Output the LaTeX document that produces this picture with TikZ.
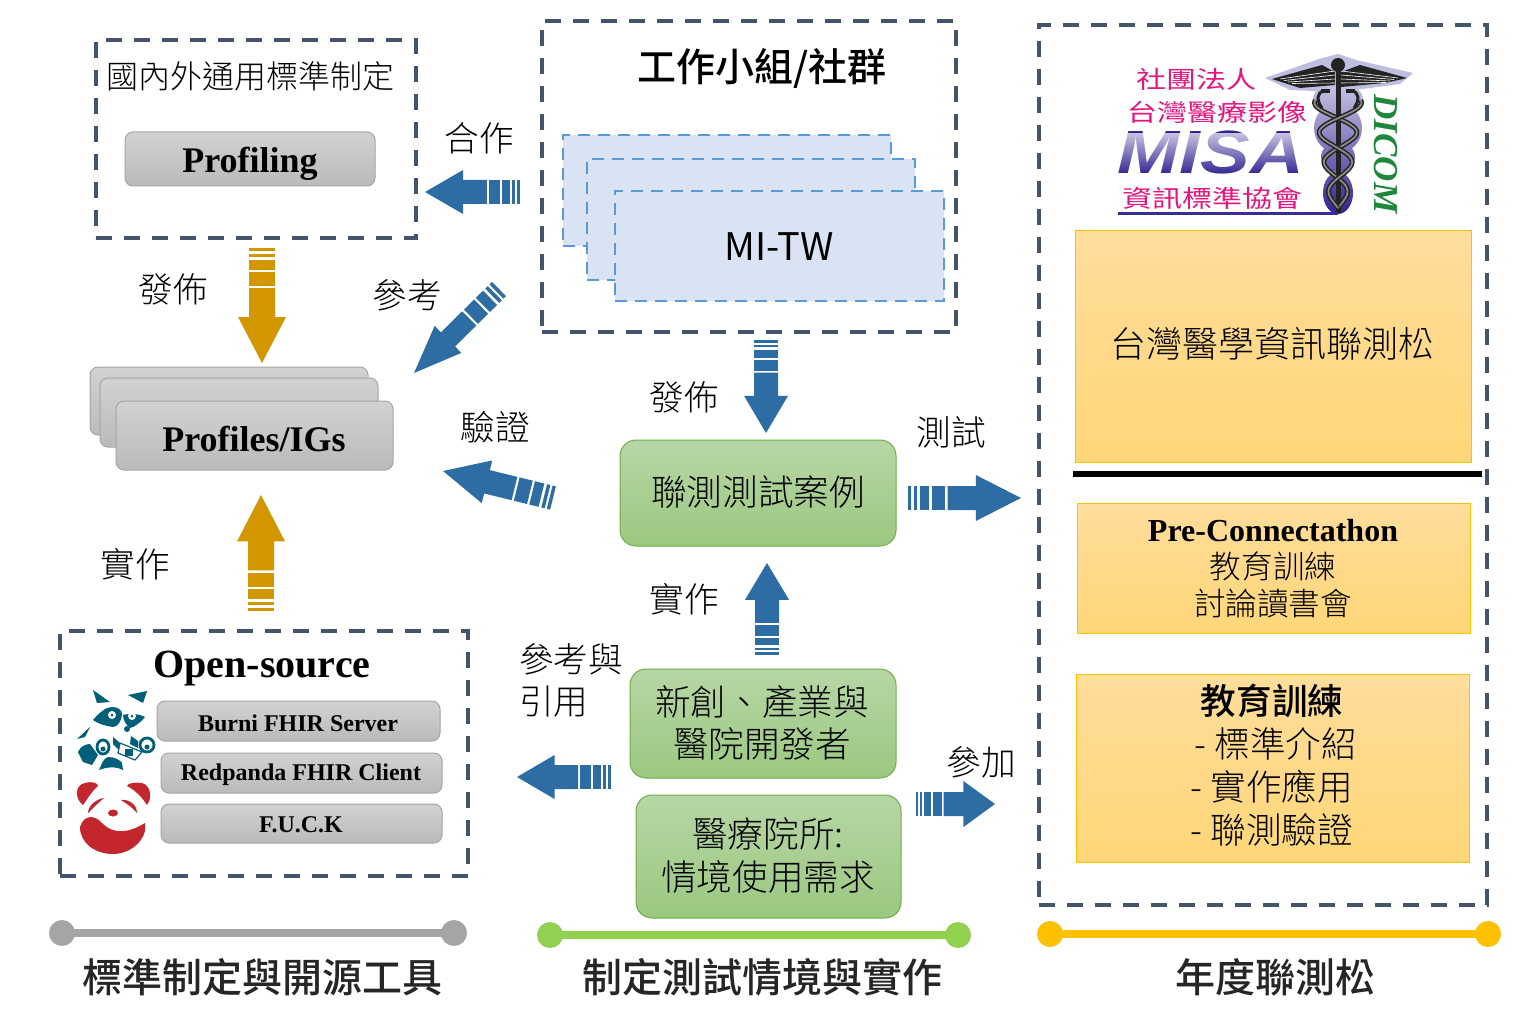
\documentclass[tikz,border=0pt]{standalone}
\usepackage{fontspec}
\setmainfont{Noto Sans CJK TC Light}[BoldFont={Noto Sans CJK TC Medium}]
\newfontfamily\regf{Noto Sans CJK TC}
\newfontfamily\srf{Liberation Serif}
\newfontfamily\lsans{Liberation Sans}
\newcommand\fs[1]{\fontsize{#1}{#1}\selectfont}
\definecolor{dashc}{HTML}{44546A}
\definecolor{arrb}{HTML}{2E6CA4}
\definecolor{arro}{HTML}{D29700}
\definecolor{misap}{HTML}{E5157F}
\definecolor{misav}{HTML}{2E2291}
\definecolor{misal}{HTML}{3A2E96}
\definecolor{rac}{HTML}{00607A}
\definecolor{pan}{HTML}{C4262E}
\definecolor{stkd}{HTML}{5B9BD5}
\definecolor{stkf}{HTML}{DAE3F3}
\definecolor{grd}{HTML}{A5A5A5}
\definecolor{grt}{HTML}{D2D2D2}
\definecolor{grb}{HTML}{BABABA}
\definecolor{gnd}{HTML}{70AD47}
\definecolor{gnt}{HTML}{B7D6A5}
\definecolor{gnb}{HTML}{9BC880}
\definecolor{ord}{HTML}{FFC000}
\definecolor{ort}{HTML}{FFDD9C}
\definecolor{orb}{HTML}{FFD678}
\definecolor{halt}{HTML}{C8C6E4}
\definecolor{halb}{HTML}{322491}
\definecolor{wing}{HTML}{BEBEE1}
\definecolor{wingk}{HTML}{232323}
\definecolor{snk}{HTML}{8A8A8A}
\definecolor{dicom}{HTML}{1E873C}
\definecolor{lgreen}{HTML}{92D050}
\tikzset{
  x=.5pt,y=-.5pt,
  every node/.style={inner sep=0pt,outer sep=0pt,text=black},
  dashbox/.style={draw=dashc,line width=1.6pt,dash pattern=on 8pt off 6pt},
  bluestack/.style={draw=stkd,fill=stkf,line width=1.3pt,dash pattern=on 6pt off 4pt},
  graybox/.style={draw=grd,rounded corners=4pt,line width=.5pt,top color=grt,bottom color=grb},
  greenbox/.style={draw=gnd,rounded corners=8pt,line width=.5pt,top color=gnt,bottom color=gnb},
  orbox/.style={draw=ord,line width=.5pt,top color=ort,bottom color=orb},
  lab/.style={font=\fs{17.3}},
  serb/.style={font=\srf\bfseries\fs{#1}},
  logot/.style={font=\regf\fs{15},text=misap,yscale=.8},
}
\newcommand\bbox[7]{\node[#1,minimum width={(#5-#3)*.5pt},minimum height={(#6-#4)*.5pt},anchor=north west] (#2) at (#3,#4) {#7};}
\newcommand\barrow[7]{%
  \pgfmathsetmacro\dxx{#3-#1}\pgfmathsetmacro\dyy{#4-#2}%
  \pgfmathsetmacro\Lf{veclen(\dxx,\dyy)}\pgfmathsetmacro\ang{atan2(-\dyy,\dxx)}%
  \begin{scope}[shift={(#1,#2)},rotate=\ang]
    \foreach \a/\b in {0/.03,.05/.08,.105/.19,.21/.33}{\fill[#7] (\a*\Lf,-#5) rectangle (\b*\Lf,#5);}
    \fill[#7] (.35*\Lf,-#5) -- (.6*\Lf,-#5) -- (.6*\Lf,-#6) -- (\Lf,0) -- (.6*\Lf,#6) -- (.6*\Lf,#5) -- (.35*\Lf,#5) -- cycle;
  \end{scope}}
\begin{document}
\begin{tikzpicture}
\useasboundingbox (0,0) rectangle (1524,1010);
\fill[white] (0,0) rectangle (1524,1010);
% dashed containers
\bbox{dashbox}{bstd}{96}{40}{416}{238}{}
\bbox{dashbox}{bwg}{542}{21}{956}{332}{}
\bbox{dashbox}{bthon}{1039}{25}{1487}{905}{}
\bbox{dashbox}{bos}{60}{631}{468}{876}{}
% left column
\node[font=\fs{16}] (tstd) at (250,76) {國內外通用標準制定};
\bbox{graybox}{prof}{125}{132}{375}{186}{}
\node[serb=18] (proft) at (250,164) {Profiling};
\bbox{graybox}{ig1}{90}{367}{368}{435}{}
\bbox{graybox}{ig2}{100}{378}{378}{447}{}
\bbox{graybox}{ig3}{116}{401}{393}{470}{}
\node[serb=18] (igt) at (254,439) {Profiles/IGs};
\node[serb=20] (tos) at (262,669) {Open-source};
\bbox{graybox}{burni}{157}{701}{440}{741}{}
\node[serb=12] (burnit) at (298,723) {Burni FHIR Server};
\bbox{graybox}{red}{161}{753}{442}{793}{}
\node[serb=12] (redt) at (301,775) {Redpanda FHIR Client};
\bbox{graybox}{fuck}{161}{804}{442}{843}{}
\node[serb=12] (fuckt) at (301,825) {F.U.C.K};
% raccoon
\fill[rac] (93,690) -- (110,702) -- (97,703) -- cycle;
\fill[rac] (128,695) -- (147,691) -- (143,703) -- cycle;
\fill[rac] (93,720) .. controls (100,712) and (106,707) .. (112,707) .. controls (118,707) and (122,710) .. (122,714) .. controls (122,720) and (118,727) .. (113,727) .. controls (106,726) and (98,724) .. (93,720) -- cycle;
\fill[rac] (123,715) .. controls (130,713) and (140,714) .. (145,717) .. controls (141,722) and (135,727) .. (130,728) .. controls (126,725) and (123,720) .. (123,715) -- cycle;
\fill[white] (112,715) circle (4); \fill[rac] (112,715) circle (1.5);
\fill[white] (132,716) circle (4); \fill[rac] (132,716) circle (1.5);
\fill[rac] (127,729) circle (3);
\fill[rac] (77,739) -- (90,727) -- (85,737) -- cycle;
\fill[rac] (78,752) .. controls (80,747) and (85,744) .. (90,744) -- (98,755) -- (92,765) -- (83,762) -- cycle;
\fill[rac] (99,770) .. controls (102,763) and (104,758) .. (108,757) .. controls (115,757) and (120,760) .. (122,763) -- (123,770) .. controls (115,766) and (107,767) .. (99,770) -- cycle;
\fill[rac] (113,737) -- (119,742) -- (125,748) -- (121,752) -- (113,744) -- cycle;
\fill[rac] (131,736) -- (138,741) -- (138,748) -- (130,744) -- cycle;
\filldraw[draw=rac,fill=white,line width=.6pt] (120,743) -- (142,752) -- (135,760) -- (118,753) -- cycle;
\fill[rac] (125,749) rectangle (133,756);
\filldraw[draw=rac,fill=white,line width=1.4pt] (103,747) ellipse (6 and 7);
\filldraw[draw=rac,fill=white,line width=1.4pt] (147,745) ellipse (7 and 7);
\fill[rac] (103,749) circle (2.5); \fill[rac] (147,747) circle (2.5);
% panda
\fill[pan] (83,805) .. controls (74,798) and (75,785) .. (85,783) .. controls (92,781) and (98,783) .. (98,786) .. controls (92,791) and (88,798) .. (83,805) -- cycle;
\fill[pan] (147,805) .. controls (153,797) and (150,785) .. (142,783) .. controls (135,782) and (128,783) .. (127,786) .. controls (135,790) and (142,797) .. (147,805) -- cycle;
\fill[pan] (88,813) .. controls (88,806) and (96,799) .. (104,798) .. controls (98,803) and (93,808) .. (88,813) -- cycle;
\fill[pan] (121,800) .. controls (128,799) and (137,804) .. (137,813) .. controls (132,807) and (127,804) .. (121,800) -- cycle;
\fill[pan] (113,813) ellipse (5 and 3.5);
\fill[pan] (80,827) .. controls (84,814) and (95,815) .. (102,823) .. controls (115,836) and (130,832) .. (145,823) .. controls (148,838) and (132,854) .. (113,854) .. controls (95,854) and (80,843) .. (80,827) -- cycle;
% middle top
\node[font=\bfseries\fs{19.5}] (twg) at (762,68) {工作小組/社群};
\bbox{bluestack}{wg1}{563}{135}{891}{246}{}
\bbox{bluestack}{wg2}{587}{159}{915}{280}{}
\bbox{bluestack}{wg3}{615}{191}{944}{301}{}
\node[font=\regf\fs{19}] (wgt) at (779,247) {MI-TW};
% middle green
\bbox{greenbox}{test}{620}{440}{896}{546}{}
\node[font=\fs{17.8}] (testt) at (758,492) {聯測測試案例};
\bbox{greenbox}{dev}{630}{669}{896}{778}{}
\node[font=\fs{17.8}] (dev1) at (762,702) {新創、產業與};
\node[font=\fs{17.8}] (dev2) at (762,744) {醫院開發者};
\bbox{greenbox}{hosp}{636}{795}{901}{918}{}
\node[font=\fs{17.8}] (hosp1) at (768,834) {醫療院所:};
\node[font=\fs{17.8}] (hosp2) at (768,877) {情境使用需求};
% right column: logo
\shade[top color=halt,bottom color=halb]
  (1338,100) ellipse (25 and 18) (1338,128) ellipse (24 and 25) (1338,157) ellipse (17 and 15) (1338,193) ellipse (15 and 21);
\fill[wing] (1265,78) -- (1322,58) -- (1338,54) -- (1356,60) -- (1413,73) -- (1400,84) -- (1340,92) -- (1290,90) -- cycle;
\fill[wingk] (1272,79) -- (1322,65) -- (1335,72) -- (1335,85) -- (1300,88) -- cycle;
\fill[wingk] (1341,72) -- (1360,65) -- (1407,78) -- (1385,83) -- (1341,87) -- cycle;
\foreach \k in {0,1,2,3}{
  \draw[white,line width=.3pt] (1280+4*\k,79+\k*1.5) -- (1335,71+\k*4);
  \draw[white,line width=.3pt] (1398-4*\k,78+\k*1.5) -- (1341,71+\k*4);}
\fill[wingk] (1335.5,66) rectangle (1340.5,213);
\fill[wingk] (1338,65) circle (7);
\foreach \sg in {1,-1}{
  \draw[wingk,line width=2.4pt] plot[variable=\t,domain=0:1,samples=70,smooth] ({1338+\sg*(7+17*\t)*sin(\t*650)},{208-108*\t});
  \draw[snk,line width=.9pt] plot[variable=\t,domain=0:1,samples=70,smooth] ({1338+\sg*(7+17*\t)*sin(\t*650)},{208-108*\t});}
\draw[wingk,line width=1.5pt] (1322,108) .. controls (1316,100) and (1317,92) .. (1324,91);
\draw[wingk,line width=1.5pt] (1354,108) .. controls (1360,100) and (1359,92) .. (1352,91);
\fill[wingk] (1321,89) rectangle (1330,93);
\fill[wingk] (1346,89) rectangle (1355,93);
\draw[misal,line width=1.5pt] (1118,214) -- (1338,214);
\node[logot] (m1) at (1196,79) {社團法人};
\node[logot] (m2) at (1217,112) {台灣醫療影像};
\node[font=\lsans\bfseries\itshape\fs{30.5},text=misav,xscale=1.22] (m3) at (1211,153) {MISA};
\foreach \s in {0,...,21}{
  \fill[white,fill opacity={.72*(1-\s/21)}] (1112,133+2*\s) rectangle (1308,135+2*\s);}
\node[logot] (m4) at (1212,198) {資訊標準協會};
\node[font=\srf\itshape\bfseries\fs{17.5},text=dicom,rotate=-90] (m5) at (1386,154) {DICOM};
% right column: boxes
\bbox{orbox}{tw}{1075}{231}{1471}{462}{}
\node[font=\fs{18}] (tw1) at (1272,344) {台灣醫學資訊聯測松};
\draw[black,line width=3pt] (1073,474) -- (1482,474);
\bbox{orbox}{pre}{1077}{503}{1470}{633}{}
\node[serb=16] (pre1) at (1273,531) {Pre-Connectathon};
\node[font=\fs{15.8}] (pre2) at (1273,566) {教育訓練};
\node[font=\fs{15.8}] (pre3) at (1273,604) {討論讀書會};
\bbox{orbox}{edu}{1076}{674}{1469}{862}{}
\node[font=\bfseries\fs{17.8}] (edu1) at (1272,701) {教育訓練};
\node[font=\fs{17.8}] (edu2) at (1276,744) {- 標準介紹};
\node[font=\fs{17.8}] (edu3) at (1272,787) {- 實作應用};
\node[font=\fs{17.8}] (edu4) at (1272,830) {- 聯測驗證};
% block arrows
\barrow{520}{192}{425}{192}{12}{22}{arrb}
\barrow{499}{289}{414}{373}{10}{19}{arrb}
\barrow{553}{498}{443}{471}{12}{22}{arrb}
\barrow{766}{340}{766}{433}{12}{22}{arrb}
\barrow{908}{498}{1021}{498}{12}{23}{arrb}
\barrow{767}{655}{767}{563}{12}{22}{arrb}
\barrow{611}{777}{517}{777}{12}{22}{arrb}
\barrow{916}{804}{995}{804}{12}{23}{arrb}
\barrow{262}{248}{262}{363}{13}{24}{arro}
\barrow{261}{611}{261}{495}{13}{24}{arro}
% arrow labels
\node[lab] (l1) at (479,138) {合作};
\node[lab] (l2) at (173,289) {發佈};
\node[lab] (l3) at (407,295) {參考};
\node[lab] (l4) at (495,427) {驗證};
\node[lab] (l5) at (684,397) {發佈};
\node[lab] (l6) at (951,432) {測試};
\node[lab] (l7) at (135,564) {實作};
\node[lab] (l8) at (684,599) {實作};
\node[lab,anchor=west] (l9) at (519,659) {參考與};
\node[lab,anchor=west] (l10) at (519,702) {引用};
\node[lab] (l11) at (981,762) {參加};
% bottom legends
\draw[grd,line width=4pt] (62,933) coordinate (g1) -- (454,933) coordinate (g2);
\fill[grd] (g1) circle (13) (g2) circle (13);
\draw[lgreen,line width=4pt] (550,935) coordinate (h1) -- (958,935) coordinate (h2);
\fill[lgreen] (h1) circle (13) (h2) circle (13);
\draw[ord,line width=4pt] (1050,934) coordinate (k1) -- (1488,934) coordinate (k2);
\fill[ord] (k1) circle (13) (k2) circle (13);
\node[font=\bfseries\fs{20},text=black!85] (c1) at (262,977) {標準制定與開源工具};
\node[font=\bfseries\fs{20},text=black!85] (c2) at (762,977) {制定測試情境與實作};
\node[font=\bfseries\fs{20},text=black!85] (c3) at (1275,977) {年度聯測松};
\end{tikzpicture}
\end{document}
